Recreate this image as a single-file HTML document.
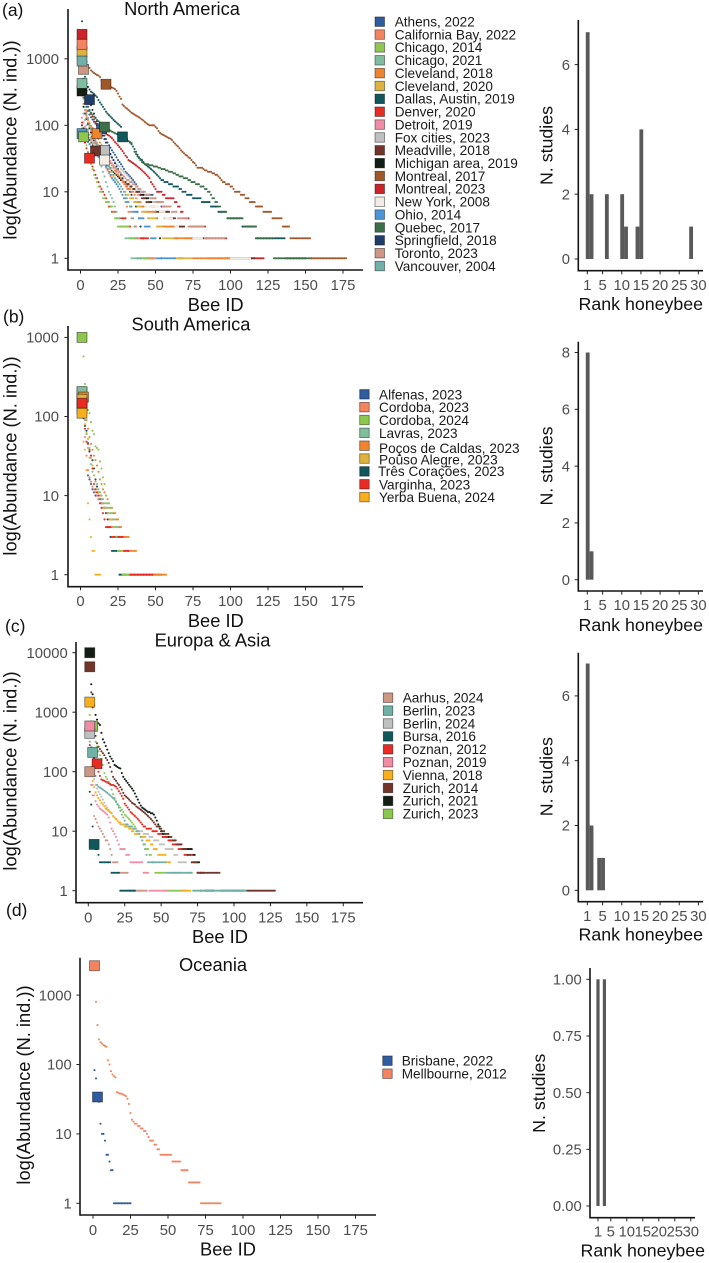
<!DOCTYPE html>
<html lang="en">
<head>
<meta charset="utf-8">
<title>Bee rank abundance by region</title>
<style>
html,body{margin:0;padding:0;background:#fff;}
svg{position:absolute;left:0;top:0;display:block;font-family:"Liberation Sans",Arial,sans-serif;}
.ttl{font-size:18.3px;fill:#111;text-anchor:middle;}
.tag{font-size:17.5px;fill:#111;}
.axt{font-size:18.3px;fill:#111;text-anchor:middle;}
.axb{font-size:17.8px;fill:#111;text-anchor:middle;}
.tick{font-size:14.8px;fill:#4d4d4d;}
.leg{font-size:13.6px;fill:#1a1a1a;}
.sw{stroke:#000;stroke-opacity:.5;stroke-width:.8;}
</style>
</head>
<body>
<svg id="chart" xmlns="http://www.w3.org/2000/svg" width="709" height="1263" viewBox="0 0 709 1263">
  <text class="tag" x="2" y="16">(a)</text>
  <text class="tag" x="3" y="322.7">(b)</text>
  <text class="tag" x="5" y="632">(c)</text>
  <text class="tag" x="6" y="916">(d)</text>

  <text class="ttl" x="182" y="15">North America</text>
  <text class="ttl" x="191" y="330.7">South America</text>
  <text class="ttl" x="212.5" y="646.7">Europa &amp; Asia</text>
  <text class="ttl" x="213" y="971">Oceania</text>

  <text class="axt" transform="translate(16.7,140) rotate(-90)">log(Abundance (N. ind.))</text>
  <text class="axt" transform="translate(16.7,456) rotate(-90)">log(Abundance (N. ind.))</text>
  <text class="axt" transform="translate(16.7,771) rotate(-90)">log(Abundance (N. ind.))</text>
  <text class="axt" transform="translate(30,1085) rotate(-90)">log(Abundance (N. ind.))</text>

  <text class="axt" x="215.7" y="311">Bee ID</text>
  <text class="axt" x="215.8" y="627">Bee ID</text>
  <text class="axt" x="220" y="943">Bee ID</text>
  <text class="axt" x="228" y="1255.7">Bee ID</text>

  <text class="axb" transform="translate(552.7,145.5) rotate(-90)">N. studies</text>
  <text class="axb" transform="translate(552.7,466) rotate(-90)">N. studies</text>
  <text class="axb" transform="translate(552.7,776.7) rotate(-90)">N. studies</text>
  <text class="axb" transform="translate(545,1093.3) rotate(-90)">N. studies</text>

  <text class="axb" x="640.8" y="310">Rank honeybee</text>
  <text class="axb" x="640.8" y="631">Rank honeybee</text>
  <text class="axb" x="640.8" y="940.7">Rank honeybee</text>
  <text class="axb" x="642.8" y="1256.7">Rank honeybee</text>

  <g transform="translate(375,21.7)">
    <g transform="translate(0,0)"><rect class="sw" y="-4.75" width="9.5" height="9.5" fill="#2F5C9E"/><text class="leg" x="19.7" y="4.8">Athens, 2022</text></g>
    <g transform="translate(0,12.86)"><rect class="sw" y="-4.75" width="9.5" height="9.5" fill="#F4845F"/><text class="leg" x="19.7" y="4.8">California Bay, 2022</text></g>
    <g transform="translate(0,25.72)"><rect class="sw" y="-4.75" width="9.5" height="9.5" fill="#8CC84E"/><text class="leg" x="19.7" y="4.8">Chicago, 2014</text></g>
    <g transform="translate(0,38.58)"><rect class="sw" y="-4.75" width="9.5" height="9.5" fill="#7FBD9E"/><text class="leg" x="19.7" y="4.8">Chicago, 2021</text></g>
    <g transform="translate(0,51.44)"><rect class="sw" y="-4.75" width="9.5" height="9.5" fill="#F0842E"/><text class="leg" x="19.7" y="4.8">Cleveland, 2018</text></g>
    <g transform="translate(0,64.3)"><rect class="sw" y="-4.75" width="9.5" height="9.5" fill="#DDB33F"/><text class="leg" x="19.7" y="4.8">Cleveland, 2020</text></g>
    <g transform="translate(0,77.16)"><rect class="sw" y="-4.75" width="9.5" height="9.5" fill="#11575C"/><text class="leg" x="19.7" y="4.8">Dallas, Austin, 2019</text></g>
    <g transform="translate(0,90.02)"><rect class="sw" y="-4.75" width="9.5" height="9.5" fill="#EA2B23"/><text class="leg" x="19.7" y="4.8">Denver, 2020</text></g>
    <g transform="translate(0,102.88)"><rect class="sw" y="-4.75" width="9.5" height="9.5" fill="#F08CA6"/><text class="leg" x="19.7" y="4.8">Detroit, 2019</text></g>
    <g transform="translate(0,115.74)"><rect class="sw" y="-4.75" width="9.5" height="9.5" fill="#BFC0C0"/><text class="leg" x="19.7" y="4.8">Fox cities, 2023</text></g>
    <g transform="translate(0,128.6)"><rect class="sw" y="-4.75" width="9.5" height="9.5" fill="#71352A"/><text class="leg" x="19.7" y="4.8">Meadville, 2018</text></g>
    <g transform="translate(0,141.46)"><rect class="sw" y="-4.75" width="9.5" height="9.5" fill="#141E15"/><text class="leg" x="19.7" y="4.8">Michigan area, 2019</text></g>
    <g transform="translate(0,154.32)"><rect class="sw" y="-4.75" width="9.5" height="9.5" fill="#A0582A"/><text class="leg" x="19.7" y="4.8">Montreal, 2017</text></g>
    <g transform="translate(0,167.18)"><rect class="sw" y="-4.75" width="9.5" height="9.5" fill="#CC2229"/><text class="leg" x="19.7" y="4.8">Montreal, 2023</text></g>
    <g transform="translate(0,180.04)"><rect class="sw" y="-4.75" width="9.5" height="9.5" fill="#F3EEE5"/><text class="leg" x="19.7" y="4.8">New York, 2008</text></g>
    <g transform="translate(0,192.9)"><rect class="sw" y="-4.75" width="9.5" height="9.5" fill="#4B94D8"/><text class="leg" x="19.7" y="4.8">Ohio, 2014</text></g>
    <g transform="translate(0,205.76)"><rect class="sw" y="-4.75" width="9.5" height="9.5" fill="#3B7048"/><text class="leg" x="19.7" y="4.8">Quebec, 2017</text></g>
    <g transform="translate(0,218.62)"><rect class="sw" y="-4.75" width="9.5" height="9.5" fill="#1F3D6B"/><text class="leg" x="19.7" y="4.8">Springfield, 2018</text></g>
    <g transform="translate(0,231.48)"><rect class="sw" y="-4.75" width="9.5" height="9.5" fill="#CE9684"/><text class="leg" x="19.7" y="4.8">Toronto, 2023</text></g>
    <g transform="translate(0,244.34)"><rect class="sw" y="-4.75" width="9.5" height="9.5" fill="#71B0A6"/><text class="leg" x="19.7" y="4.8">Vancouver, 2004</text></g>
  </g>

  <g transform="translate(359.7,394.3)">
    <g transform="translate(0,0)"><rect class="sw" y="-4.75" width="9.5" height="9.5" fill="#2F5C9E"/><text class="leg" x="19.3" y="5">Alfenas, 2023</text></g>
    <g transform="translate(0,12.85)"><rect class="sw" y="-4.75" width="9.5" height="9.5" fill="#F4845F"/><text class="leg" x="19.3" y="5">Cordoba, 2023</text></g>
    <g transform="translate(0,25.7)"><rect class="sw" y="-4.75" width="9.5" height="9.5" fill="#8CC84E"/><text class="leg" x="19.3" y="5">Cordoba, 2024</text></g>
    <g transform="translate(0,38.55)"><rect class="sw" y="-4.75" width="9.5" height="9.5" fill="#7FBD9E"/><text class="leg" x="19.3" y="5">Lavras, 2023</text></g>
    <g transform="translate(0,51.4)"><rect class="sw" y="-4.75" width="9.5" height="9.5" fill="#F0842E"/><text class="leg" x="19.3" y="7.3">Poços de Caldas, 2023</text></g>
    <g transform="translate(0,64.25)"><rect class="sw" y="-4.75" width="9.5" height="9.5" fill="#DDB33F"/><text class="leg" x="19.3" y="5.7">Poûso Alegre, 2023</text></g>
    <g transform="translate(0,77.1)"><rect class="sw" y="-4.75" width="9.5" height="9.5" fill="#11575C"/><text class="leg" x="18.3" y="4.7">Três Corações, 2023</text></g>
    <g transform="translate(0,89.95)"><rect class="sw" y="-4.75" width="9.5" height="9.5" fill="#EA2B23"/><text class="leg" x="19.3" y="5">Varginha, 2023</text></g>
    <g transform="translate(0,102.8)"><rect class="sw" y="-4.75" width="9.5" height="9.5" fill="#F9AE1B"/><text class="leg" x="19.3" y="5">Yerba Buena, 2024</text></g>
  </g>

  <g transform="translate(383.3,697.7)">
    <g transform="translate(0,0)"><rect class="sw" y="-4.75" width="9.5" height="9.5" fill="#CE9684"/><text class="leg" x="19.4" y="4.8">Aarhus, 2024</text></g>
    <g transform="translate(0,12.9)"><rect class="sw" y="-4.75" width="9.5" height="9.5" fill="#71B0A6"/><text class="leg" x="19.4" y="4.8">Berlin, 2023</text></g>
    <g transform="translate(0,25.8)"><rect class="sw" y="-4.75" width="9.5" height="9.5" fill="#BFC0C0"/><text class="leg" x="19.4" y="4.8">Berlin, 2024</text></g>
    <g transform="translate(0,38.7)"><rect class="sw" y="-4.75" width="9.5" height="9.5" fill="#11575C"/><text class="leg" x="19.4" y="4.8">Bursa, 2016</text></g>
    <g transform="translate(0,51.6)"><rect class="sw" y="-4.75" width="9.5" height="9.5" fill="#EA2B23"/><text class="leg" x="19.4" y="4.8">Poznan, 2012</text></g>
    <g transform="translate(0,64.5)"><rect class="sw" y="-4.75" width="9.5" height="9.5" fill="#F08CA6"/><text class="leg" x="19.4" y="4.8">Poznan, 2019</text></g>
    <g transform="translate(0,77.4)"><rect class="sw" y="-4.75" width="9.5" height="9.5" fill="#F9AE1B"/><text class="leg" x="19.4" y="4.8">Vienna, 2018</text></g>
    <g transform="translate(0,90.3)"><rect class="sw" y="-4.75" width="9.5" height="9.5" fill="#71352A"/><text class="leg" x="19.4" y="4.8">Zurich, 2014</text></g>
    <g transform="translate(0,103.2)"><rect class="sw" y="-4.75" width="9.5" height="9.5" fill="#141E15"/><text class="leg" x="19.4" y="4.8">Zurich, 2021</text></g>
    <g transform="translate(0,116.1)"><rect class="sw" y="-4.75" width="9.5" height="9.5" fill="#8CC84E"/><text class="leg" x="19.4" y="4.8">Zurich, 2023</text></g>
  </g>

  <g transform="translate(382.7,1060.7)">
    <g transform="translate(0,0)"><rect class="sw" y="-4.75" width="9.5" height="9.5" fill="#2F5C9E"/><text class="leg" x="19" y="4.8">Brisbane, 2022</text></g>
    <g transform="translate(0,13)"><rect class="sw" y="-4.75" width="9.5" height="9.5" fill="#F4845F"/><text class="leg" x="19" y="4.8">Mellbourne, 2012</text></g>
  </g>
</svg>

<script>
// Series values: abundance per bee ID starting at ID 1.
// A plain number is one bee; [abundance, n] is n consecutive bees sharing that abundance.

// ---- North America ----
const athens2022 = [320,260,220,190,165,145,132,122,113,106,100,96,92,89,80,70,62,55,50,46,42,39,36,33,30,28,26,24,22,20,19,18,17,16,15,14,13,12,11,[10,3],[9,6],[8,2],[7,3],[6,3],[5,2],[4,2],[3,2],[2,2],[1,4]];
const california2022 = [1650,320,220,160,125,100,85,72,62,54,48,42,37,33,29,26,23,21,19,17,16,15,14,13,12,11,10,9,8,7,6,5,5,4,4,[3,2],[2,2],[1,11]];
const chicago2014 = [90,67,58,50,40,32,26,22,18,16,14,12,[10,2],[8,2],[7,3],[6,2],5,[4,2],[3,8],[2,5],[1,8]];
const chicago2021 = [427,150,120,100,85,72,62,54,48,42,37,33,28,24,20,17,14,12,10,9,8,7,6,5,4,4,3,3,3,[2,4],[1,5]];
const cleveland2018 = [280,210,170,140,120,105,98,92,85,80,75,62,55,50,44,40,36,32,29,27,25,23,21,20,18,17,16,15,14,13,12,11,11,10,10,9,8,[7,3],[6,2],[5,8],4,[3,11],[2,12],[1,25]];
const cleveland2020 = [1278,320,220,170,130,110,95,80,70,60,52,46,40,36,32,29,26,24,22,20,18,17,16,15,14,13,12,11,10,10,9,9,[8,3],[7,2],[6,3],[5,4],[4,6],[3,4],[2,8],[1,12]];
const dallas2019 = [3670,1000,537,430,377,345,320,310,295,280,265,240,220,205,190,175,160,150,142,135,128,121,115,110,105,100,95,67,65,64,62,58,55,52,48,44,40,36,33,31,30,28,26,25,24,23,22,21,20,19,18,17,16,15,15,14,14,14,13,13,13,12,12,12,12,11,11,[10,3],[9,4],[8,6],[7,6],[6,5],[5,6],[4,10],[3,9],[2,20],[1,14]];
const denver2020 = [110,70,55,45,38,32,28,24,21,18,16,14,12,11,10,9,8,7,6,6,[5,3],[4,7],[3,3],[2,12],[1,4]];
const detroit2019 = [130,110,95,85,78,72,66,61,57,54,51,49,47,45,43,41,38,35,32,29,27,25,23,21,19,17,15,14,13,12,[11,3],[10,3],[9,5],[8,7],[7,6],[6,3],[5,2],[4,2],[3,2],[2,2],[1,3]];
const foxCities2023 = [100,90,82,76,70,65,60,56,53,50,48,46,45,44,43,42,40,38,36,34,32,30,28,26,25,24,22,21,20,19,18,17,16,15,14,13,12,11,10,10,9,9,9,8,8,8,[7,3],[6,3],[5,3],[4,5],3,2,1];
const meadville2018 = [100,90,80,72,65,60,55,50,46,41,38,36,34,32,30,28,26,25,24,23,22,21,20,19,18,17,16,15,14,14,13,13,12,12,11,11,10,10,10,9,[8,3],[7,3],[6,3],[5,10],[4,4],[3,6],[2,15],[1,32]];
const michigan2019 = [328,190,150,125,105,90,78,68,60,54,48,44,40,37,34,31,29,27,25,23,21,20,19,18,17,16,15,15,14,14,13,13,12,12,11,11,10,10,10,9,9,9,8,8,8,[7,2],[6,2],5,4,3,2,1];
const montreal2017 = [1900,1500,1080,900,790,730,670,640,610,590,570,560,530,480,450,430,414,400,390,380,370,360,350,330,300,270,250,205,195,185,178,170,162,155,150,145,140,136,132,127,122,118,112,107,103,[100,4],95,90,82,77,74,72,70,68,66,64,63,60,56,53,50,48,45,42,40,38,36,35,33,32,30,28,27,25,[23,4],22,21,21,20,20,20,19,19,18,18,17,16,15,14,14,13,13,13,12,12,11,[10,4],[9,3],[8,3],[7,4],[6,5],[5,6],[4,7],[3,5],[2,14],[1,24]];
const montreal2023 = [2335,320,260,220,190,170,150,135,122,112,104,97,91,86,82,78,75,72,70,67,64,60,56,53,50,47,44,41,38,35,33,30,29,28,27,26,25,24,23,22,21,20,19,18,17,16,14,13,12,11,[10,4],[9,2],[8,6],[7,2],[6,2],[5,2],[4,4],[3,11],[2,14],[1,25]];
const newYork2008 = [90,80,72,65,60,55,50,46,43,40,38,36,35,34,32,30,28,26,25,24,22,21,20,19,18,17,16,15,14,13,12,12,11,11,10,10,9,8,7,[6,13],[5,4],[4,5],[3,4],[2,16],[1,32]];
const ohio2014 = [75,70,65,60,56,52,48,45,42,39,36,34,32,30,28,26,24,22,20,18,16,15,14,13,12,11,10,9,[8,2],[7,2],[6,2],[5,4],[4,4],[3,4],[2,4],[1,13]];
const quebec2017 = [600,400,300,240,190,165,155,145,135,128,120,115,110,105,100,94,90,87,85,83,80,78,76,74,72,70,68,66,64,62,60,58,56,54,48,40,37,34,32,30,28,27,26,26,26,25,25,25,24,24,24,23,23,22,22,22,21,21,20,20,20,19,19,18,18,17,17,17,16,16,16,15,15,14,14,14,13,13,13,12,12,12,11,11,10,10,9,8,8,7,7,6,6,[5,4],[4,11],[3,9],[2,11],[1,26]];
const springfield2018 = [700,500,400,330,280,243,200,170,150,130,115,100,90,80,70,62,55,48,42,37,33,30,27,24,22,20,18,16,14,13,12,11,10,9,8,7,6,5,4,3,[2,2],[1,3]];
const toronto2023 = [1200,695,170,130,110,95,85,75,68,60,55,50,46,42,39,36,33,31,29,27,25,24,23,22,21,20,19,18,17,16,15,15,14,14,13,13,12,12,11,11,10,10,10,9,9,9,8,8,8,8,[7,5],[6,5],[5,4],[4,7],[3,11],[2,14]];
const vancouver2004 = [925,250,190,150,125,105,90,75,65,58,52,46,42,38,34,31,28,26,24,22,20,18,16,15,14,13,12,11,10,9,8,7,6,5,4,3,2,[1,3]];

// ---- South America ----
const alfenas2023 = [150,120,90,60,18,16,14,12,11,10,10,9,9,8,8,7,7,6,6,5,5,4,4,3,3,[2,2],[1,4]];
const cordoba2023 = [200,100,55,32,21,17,15,13,12,11,10,9,8,8,7,7,6,6,5,5,4,4,3,3,2,2,[1,2]];
const cordoba2024 = [1000,575,258,170,121,110,85,66,60,42,40,38,27,22,17,14,10,8,8,7,6,5,4,3,[2,3],[1,5]];
const lavras2023 = [207,120,90,60,40,30,25,20,18,16,14,12,11,10,9,8,8,7,7,6,6,5,5,4,4,4,[3,4],[2,2],[1,4]];
const pocos2023 = [200,176,120,90,70,55,45,38,32,28,24,20,16,14,12,11,10,9,8,7,7,6,6,5,5,4,4,3,3,3,[3,2],[2,5],[1,20]];
const pouso2023 = [165,110,80,62,52,40,30,24,18,15,12,11,10,9,8,[7,2],[6,2],[5,2],[4,2],3,[2,5],[1,10]];
const tres2023 = [125,95,76,66,46,36,32,28,22,16,13,11,10,9,8,7,6,5,4,3,[2,5],[1,29]];
const varginha2023 = [147,100,70,48,45,38,32,22,14,12,11,10,8,7,6,5,[4,4],[3,8],[2,4],[1,16]];
const yerba2024 = [110,48,38,21,8,5,3,[2,2],[1,4]];

// ---- Europa & Asia ----
const aarhus2024 = [100,60,40,18,16,14,12,11,10,9,8,7,7,6,5,4,[3,4],[2,7],[1,13]];
const berlin2023 = [320,260,211,130,85,60,56,54,52,50,48,46,44,42,40,38,36,34,31,28,25,22,19,17,15,13,13,12,12,12,[11,2],[10,2],9,8,7,6,5,4,[3,13],[2,18],[1,37]];
const berlin2024 = [441,200,120,75,60,52,46,42,38,34,30,27,25,23,21,20,18,17,16,15,14,13,13,13,13,12,12,12,12,11,11,11,11,10,10,10,10,9,9,9,9,8,8,8,7,7,7,7,6,6,6,6,5,5,5,5,5,5,4,4,4,[3,6],[2,4]];
const bursa2016 = [46,28,12,6,5,5,4,[3,8],[2,6],[1,11]];
const poznan2012 = [280,220,190,170,150,136,100,85,74,72,70,68,66,64,62,60,60,58,56,52,47,43,39,35,29,27,25,23,21,20,19,18,17,16,15,14,13,12,12,11,11,11,11,10,10,10,10,[9,3],[8,4],[7,3],[6,4],[5,4],[4,6],[3,3],[2,2],[1,2]];
const poznan2019 = [587,90,60,40,32,28,26,24,23,22,21,20,19,17,14,11,10,9,8,7,6,5,5,5,5,[4,3],[3,9],[2,4],[1,13]];
const vienna2018 = [1480,120,70,55,45,40,36,33,30,28,26,24,23,22,21,20,18,17,16,15,14,14,13,13,12,12,12,11,11,10,10,9,9,9,9,8,8,8,8,7,7,7,6,6,[5,3],[4,6],[3,3],[2,8],[1,6]];
const zurich2014 = [5800,2150,1200,600,400,300,262,240,220,205,190,170,157,140,120,100,82,75,70,64,60,55,50,44,40,38,36,34,32,30,29,28,26,25,24,23,22,21,20,19,18,17,16,15,14,13,12,12,11,11,10,10,9,9,9,8,8,[7,3],[6,4],[5,3],[4,3],[3,4],[2,16],[1,38]];
const zurich2021 = [10000,2950,2000,1300,900,750,650,610,450,350,310,270,235,205,180,165,150,130,125,120,116,113,95,82,75,70,65,60,56,52,48,43,38,34,30,27,25,24,23,22,21,21,20,20,19,17,15,13,12,10,[9,2],[8,3],[7,4],[6,4],[5,8],[4,2],[3,3],[2,3],[1,7]];
const zurich2023 = [900,700,580,400,320,265,220,190,165,130,95,82,75,68,60,50,42,36,32,29,27,25,23,21,19,18,17,16,15,14,13,12,11,10,9,8,7,[6,2],[5,2],[4,2],[3,2],[2,8],[1,14]];

// ---- Oceania ----
const brisbane2022 = [83,63,34,29,14,[10,2],8,[5,2],4,[3,2],[1,12]];
const mellbourne2012 = [2650,800,370,230,210,200,190,185,180,115,100,80,72,68,65,40,39,38,38,37,36,35,32,27,20,16,15,14,14,13,13,12,12,11,11,10,9,8,8,8,7,7,6,6,[5,8],[4,6],[3,5],[2,8],[1,14]];

// Honeybee rank per study and draw order, by panel
const seriesA = [
  {id:'athens-2022',values:athens2022,hb:14,color:'#2F5C9E'},
  {id:'detroit-2019',values:detroit2019,hb:16,color:'#F08CA6'},
  {id:'fox-cities-2023',values:foxCities2023,hb:16,color:'#BFC0C0'},
  {id:'michigan-area-2019',values:michigan2019,hb:1,color:'#141E15'},
  {id:'montreal-2023',values:montreal2023,hb:1,color:'#CC2229'},
  {id:'meadville-2018',values:meadville2018,hb:10,color:'#71352A'},
  {id:'new-york-2008',values:newYork2008,hb:16,color:'#F3EEE5'},
  {id:'springfield-2018',values:springfield2018,hb:6,color:'#1F3D6B'},
  {id:'denver-2020',values:denver2020,hb:6,color:'#EA2B23'},
  {id:'cleveland-2018',values:cleveland2018,hb:11,color:'#F0842E'},
  {id:'cleveland-2020',values:cleveland2020,hb:1,color:'#DDB33F'},
  {id:'chicago-2021',values:chicago2021,hb:1,color:'#7FBD9E'},
  {id:'california-bay-2022',values:california2022,hb:1,color:'#F4845F'},
  {id:'ohio-2014',values:ohio2014,hb:1,color:'#4B94D8'},
  {id:'chicago-2014',values:chicago2014,hb:2,color:'#8CC84E'},
  {id:'toronto-2023',values:toronto2023,hb:2,color:'#CE9684'},
  {id:'vancouver-2004',values:vancouver2004,hb:1,color:'#71B0A6'},
  {id:'dallas-austin-2019',values:dallas2019,hb:28,color:'#11575C'},
  {id:'quebec-2017',values:quebec2017,hb:16,color:'#3B7048'},
  {id:'montreal-2017',values:montreal2017,hb:17,color:'#A0582A'}
];
const seriesB = [
  {id:'alfenas-2023',values:alfenas2023,hb:1,color:'#2F5C9E'},
  {id:'cordoba-2023',values:cordoba2023,hb:1,color:'#F4845F'},
  {id:'lavras-2023',values:lavras2023,hb:1,color:'#7FBD9E'},
  {id:'tres-coracoes-2023',values:tres2023,hb:1,color:'#11575C'},
  {id:'pocos-de-caldas-2023',values:pocos2023,hb:2,color:'#F0842E'},
  {id:'pouso-alegre-2023',values:pouso2023,hb:1,color:'#DDB33F'},
  {id:'varginha-2023',values:varginha2023,hb:1,color:'#EA2B23'},
  {id:'cordoba-2024',values:cordoba2024,hb:1,color:'#8CC84E'},
  {id:'yerba-buena-2024',values:yerba2024,hb:1,color:'#F9AE1B'}
];
const seriesC = [
  {id:'zurich-2021',values:zurich2021,hb:1,color:'#141E15'},
  {id:'zurich-2023',values:zurich2023,hb:3,color:'#8CC84E'},
  {id:'berlin-2024',values:berlin2024,hb:1,color:'#BFC0C0'},
  {id:'poznan-2012',values:poznan2012,hb:6,color:'#EA2B23'},
  {id:'vienna-2018',values:vienna2018,hb:1,color:'#F9AE1B'},
  {id:'zurich-2014',values:zurich2014,hb:1,color:'#71352A'},
  {id:'aarhus-2024',values:aarhus2024,hb:1,color:'#CE9684'},
  {id:'poznan-2019',values:poznan2019,hb:1,color:'#F08CA6'},
  {id:'berlin-2023',values:berlin2023,hb:3,color:'#71B0A6'},
  {id:'bursa-2016',values:bursa2016,hb:4,color:'#11575C'}
];
const seriesD = [
  {id:'brisbane-2022',values:brisbane2022,hb:3,color:'#2F5C9E'},
  {id:'mellbourne-2012',values:mellbourne2012,hb:1,color:'#F4845F'}
];

// Tick labels
const beeTicks = [0,25,50,75,100,125,150,175];
const yTicksA = [1,10,100,1000];
const yTicksB = [1,10,100,1000];
const yTicksC = [1,10,100,1000,10000];
const yTicksD = [1,10,100,1000];
const rankTicks = [1,5,10,15,20,25,30];

// Honeybee rank histograms
const barRanksA = [1,2,6,10,11,14,15,28];
const barCountsA = [7,2,2,2,1,1,4,1];
const barTicksA = [0,2,4,6];
const barRanksB = [1,2];
const barCountsB = [8,1];
const barTicksB = [0,2,4,6,8];
const barRanksC = [1,2,4,5];
const barCountsC = [7,2,1,1];
const barTicksC = [0,2,4,6];
const barRanksD = [1,3];
const barCountsD = [1,1];
const barTicksD = [0,0.25,0.5,0.75,1];

const svg = document.getElementById('chart');
const NS = 'http://www.w3.org/2000/svg';

function make(tag, attrs, parent) {
  const el = document.createElementNS(NS, tag);
  for (const k in attrs) el.setAttribute(k, attrs[k]);
  (parent || svg).appendChild(el);
  return el;
}

function expand(values) {
  const pts = [];
  let rank = 1;
  values.forEach(function (v) {
    const ab = Array.isArray(v) ? v[0] : v;
    const n = Array.isArray(v) ? v[1] : 1;
    for (let i = 0; i < n; i++) {
      pts.push({ rank: rank, abundance: ab });
      rank++;
    }
  });
  return pts;
}

function drawAxes(key, L, group) {
  const line1 = make('line', { x1: L.left, x2: L.left, y1: L.top, y2: L.bottom + 0.8, stroke: '#151515', 'stroke-width': 1.6 }, group);
  
  
  const line2 = make('line', { x1: L.left, x2: L.right, y1: L.bottom, y2: L.bottom, stroke: '#151515', 'stroke-width': 1.6 }, group);
  
  
}

function drawTickX(key, px, label, L, labelY, group) {
  const t = make('line', { x1: px, x2: px, y1: L.bottom, y2: L.bottom + 3.6, stroke: '#222', 'stroke-width': 1 }, group);
  
  
  const txt = make('text', { x: px, y: labelY, class: 'tick', 'text-anchor': 'middle' }, group);
  txt.textContent = String(label);
  
  
}

function drawTickY(key, py, label, L, group) {
  const t = make('line', { x1: L.left - 3.6, x2: L.left, y1: py, y2: py, stroke: '#222', 'stroke-width': 1 }, group);
  
  
  const txt = make('text', { x: L.labelRight, y: py + 5.2, class: 'tick', 'text-anchor': 'end' }, group);
  txt.textContent = String(label);
  
  
}

function drawAbundance(key, L, series, yTicks) {
  const xScale = function (rank) { return L.x0 + rank * L.xs; };
  const yScale = function (v) { return L.y1 - Math.log10(v) * L.decade; };
  const g = make('g', {});
  
  
  drawAxes(key, L, g);
  beeTicks.forEach(function (t) { drawTickX(key, xScale(t), t, L, L.labelY, g); });
  yTicks.forEach(function (t) { drawTickY(key, yScale(t), t, L, g); });

  series.forEach(function (s) {
    const sg = make('g', { fill: s.color }, g);
    
    
    expand(s.values).forEach(function (p) {
      if (p.rank === s.hb) return;
      const c = make('circle', { cx: xScale(p.rank), cy: yScale(p.abundance), r: 1.05 }, sg);
      
      
    });
  });

  series.forEach(function (s) {
    const p = expand(s.values).find(function (q) { return q.rank === s.hb; });
    if (!p) return;
    const sq = make('rect', {
      x: xScale(p.rank) - 5, y: yScale(p.abundance) - 5, width: 10, height: 10,
      fill: s.color, stroke: '#000', 'stroke-opacity': 0.5, 'stroke-width': 0.8
    }, g);
    
    
  });
}

function drawBars(key, L, ranks, counts, yTicks, digits) {
  const xScale = function (r) { return L.x1 + (r - 1) * L.xs; };
  const yScale = function (v) { return L.y0 - v * L.unit; };
  const g = make('g', {});
  
  
  ranks.forEach(function (r, i) {
    const b = make('rect', {
      x: xScale(r) - L.xs / 2 + L.shift, y: yScale(counts[i]), width: L.xs,
      height: yScale(0) - yScale(counts[i]), fill: '#595959'
    }, g);
    
    
  });
  drawAxes('bar-' + key, L, g);
  rankTicks.forEach(function (t) { drawTickX('bar-' + key, xScale(t), t, L, L.labelY, g); });
  yTicks.forEach(function (t) { drawTickY('bar-' + key, yScale(t), t.toFixed(digits), L, g); });
}

drawAbundance('a', { left: 68, top: 9, bottom: 270, right: 363, x0: 80.5, xs: 1.5, y1: 258.3, decade: 66.5, labelY: 290, labelRight: 59 }, seriesA, yTicksA);
drawAbundance('b', { left: 68, top: 326, bottom: 586.7, right: 363, x0: 80.5, xs: 1.5, y1: 574.7, decade: 79.1, labelY: 606, labelRight: 59 }, seriesB, yTicksB);
drawAbundance('c', { left: 76, top: 642, bottom: 902.7, right: 363, x0: 88.3, xs: 1.457, y1: 890.7, decade: 59.5, labelY: 922.7, labelRight: 67.7 }, seriesC, yTicksC);
drawAbundance('d', { left: 80, top: 957.7, bottom: 1215, right: 376, x0: 93, xs: 1.5, y1: 1203.3, decade: 69.4, labelY: 1235, labelRight: 71.7 }, seriesD, yTicksD);

drawBars('a', { left: 578.3, top: 20, bottom: 270.7, right: 703, x1: 587.3, xs: 3.83, y0: 259, unit: 32.4, shift: 0.4, labelY: 290, labelRight: 570 }, barRanksA, barCountsA, barTicksA, 0);
drawBars('b', { left: 578.3, top: 341.7, bottom: 591, right: 703, x1: 587.3, xs: 3.83, y0: 579.7, unit: 28.4, shift: 0.4, labelY: 610, labelRight: 570 }, barRanksB, barCountsB, barTicksB, 0);
drawBars('c', { left: 578.3, top: 652.7, bottom: 901.7, right: 703, x1: 587.3, xs: 3.83, y0: 890.3, unit: 32.4, shift: 0.4, labelY: 921, labelRight: 570 }, barRanksC, barCountsC, barTicksC, 0);
drawBars('d', { left: 590, top: 968, bottom: 1217.7, right: 695, x1: 598, xs: 3.2, y0: 1206, unit: 226.7, shift: 0, labelY: 1236.7, labelRight: 581.7 }, barRanksD, barCountsD, barTicksD, 2);
</script>
</body>
</html>
